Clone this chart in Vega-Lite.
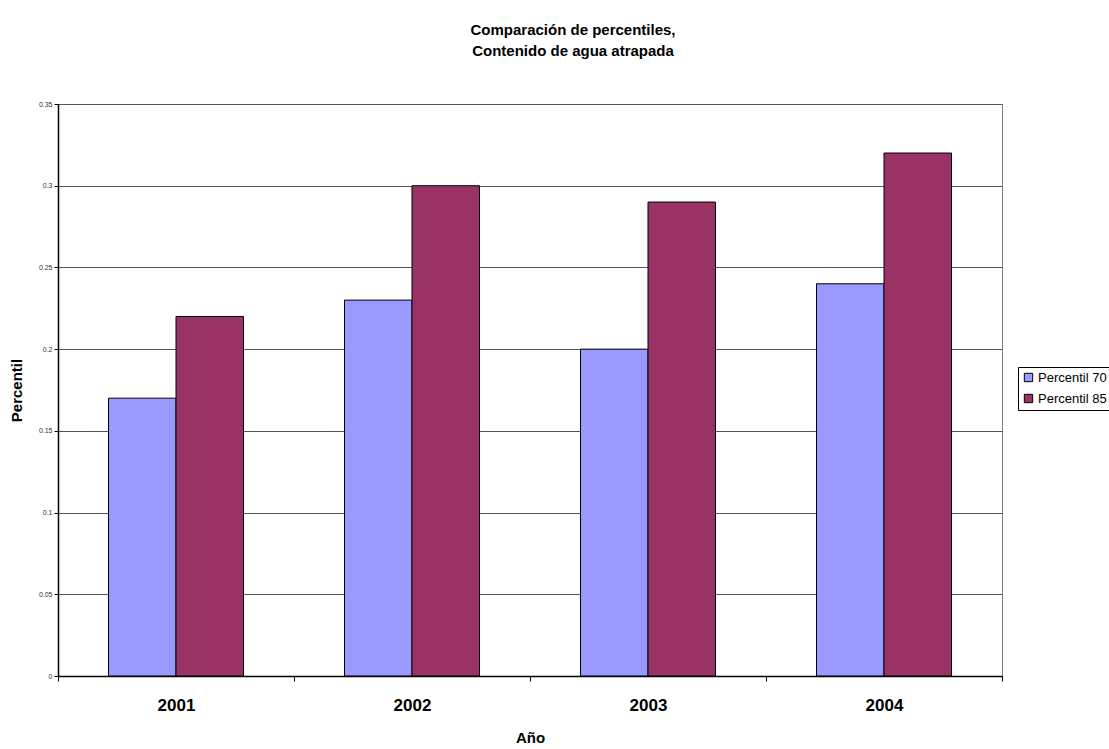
{
  "$schema": "https://vega.github.io/schema/vega-lite/v6.json",
  "width": 944,
  "height": 572,
  "autosize": {"type": "none"},
  "padding": {"left": 58, "top": 104, "right": 107, "bottom": 73},
  "background": "white",
  "config": {
    "font": "Liberation Sans",
    "view": {"stroke": "#808080", "strokeWidth": 1}
  },
  "title": {
    "text": ["Comparación de percentiles,", "Contenido de agua atrapada"],
    "font": "Liberation Sans",
    "fontSize": 15,
    "fontWeight": "bold",
    "color": "black",
    "anchor": "middle",
    "dx": 43,
    "offset": 41,
    "lineHeight": 21
  },
  "data": {
    "values": [
      {"year": "2001", "serie": "Percentil 70", "valor": 0.17},
      {"year": "2001", "serie": "Percentil 85", "valor": 0.22},
      {"year": "2002", "serie": "Percentil 70", "valor": 0.23},
      {"year": "2002", "serie": "Percentil 85", "valor": 0.30},
      {"year": "2003", "serie": "Percentil 70", "valor": 0.20},
      {"year": "2003", "serie": "Percentil 85", "valor": 0.29},
      {"year": "2004", "serie": "Percentil 70", "valor": 0.24},
      {"year": "2004", "serie": "Percentil 85", "valor": 0.32}
    ]
  },
  "mark": {"type": "bar", "stroke": "black", "strokeWidth": 1},
  "encoding": {
    "x": {
      "field": "year",
      "type": "nominal",
      "scale": {"paddingInner": 0, "paddingOuter": 0},
      "axis": {
        "title": "Año",
        "titleFont": "Liberation Sans",
        "titleFontSize": 15,
        "titleFontWeight": "bold",
        "titleColor": "black",
        "titlePadding": 17,
        "labelAngle": 0,
        "labelFont": "Liberation Sans",
        "labelFontSize": 17,
        "labelFontWeight": "bold",
        "labelColor": "black",
        "labelPadding": 16,
        "tickBand": "extent",
        "tickColor": "black",
        "tickSize": 5,
        "domainColor": "black",
        "domainWidth": 1.5,
        "grid": false
      }
    },
    "xOffset": {
      "field": "serie",
      "type": "nominal",
      "scale": {"paddingInner": 0, "paddingOuter": 0.748}
    },
    "y": {
      "field": "valor",
      "type": "quantitative",
      "scale": {"domain": [0, 0.35], "nice": false},
      "axis": {
        "title": "Percentil",
        "titleFont": "Liberation Sans",
        "titleFontSize": 15,
        "titleFontWeight": "bold",
        "titleColor": "black",
        "titlePadding": 14,
        "values": [0, 0.05, 0.1, 0.15, 0.2, 0.25, 0.3, 0.35],
        "format": "",
        "labelFont": "Liberation Sans",
        "labelFontSize": 7,
        "labelColor": "#333333",
        "labelPadding": 2,
        "tickColor": "black",
        "tickSize": 4,
        "domainColor": "black",
        "domainWidth": 1.5,
        "grid": true,
        "gridColor": "#555555",
        "gridWidth": 1
      }
    },
    "color": {
      "field": "serie",
      "type": "nominal",
      "scale": {"domain": ["Percentil 70", "Percentil 85"], "range": ["#9999FF", "#993366"]},
      "legend": {
        "title": null,
        "orient": "none",
        "legendX": 960,
        "legendY": 263,
        "symbolType": "square",
        "symbolSize": 70,
        "symbolStrokeColor": "black",
        "symbolStrokeWidth": 1,
        "labelFont": "Liberation Sans",
        "labelFontSize": 13,
        "labelColor": "black",
        "labelOffset": 3,
        "rowPadding": 7,
        "padding": 4,
        "strokeColor": "black",
        "fillColor": "white"
      }
    }
  }
}
